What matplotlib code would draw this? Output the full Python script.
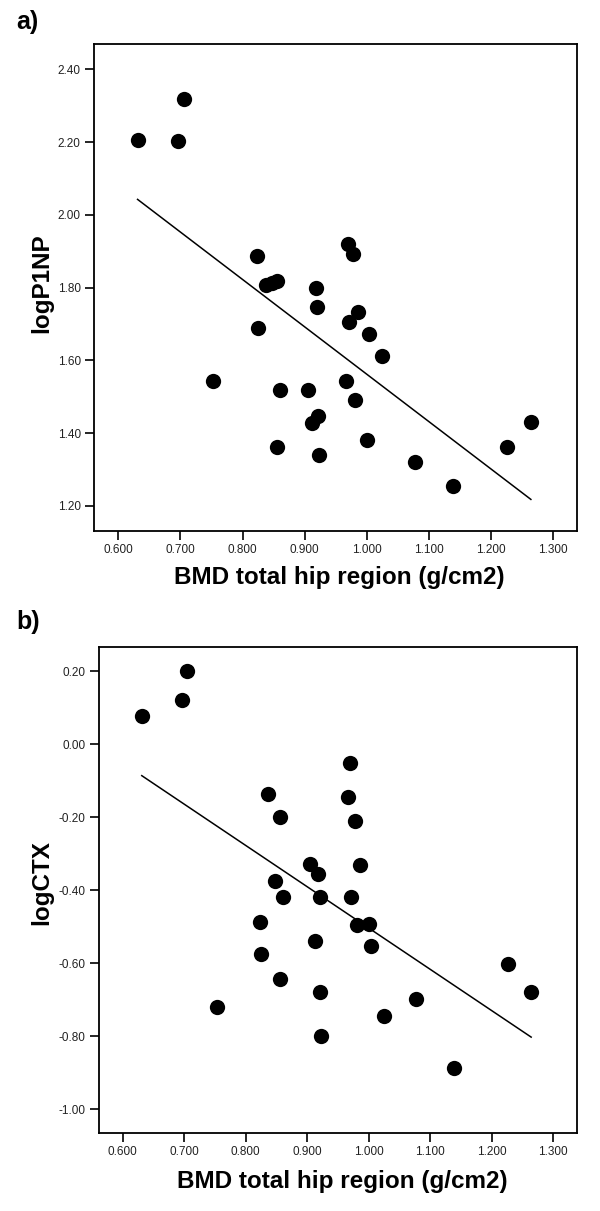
import numpy as np
import matplotlib
matplotlib.use("Agg")
import matplotlib.pyplot as plt
from matplotlib.ticker import FormatStrFormatter

plt.rcParams['font.family'] = ['Liberation Sans', 'DejaVu Sans']

bmd = [0.631, 0.696, 0.705, 0.753, 0.823, 0.825, 0.837, 0.847, 0.855, 0.855,
       0.861, 0.905, 0.912, 0.918, 0.920, 0.921, 0.923, 0.966, 0.969, 0.971,
       0.977, 0.981, 0.986, 1.000, 1.003, 1.025, 1.077, 1.138, 1.226, 1.264]
logP1NP = [2.206, 2.204, 2.317, 1.544, 1.886, 1.690, 1.806, 1.813, 1.819, 1.361,
           1.520, 1.520, 1.428, 1.799, 1.748, 1.447, 1.341, 1.544, 1.920, 1.706,
           1.892, 1.491, 1.732, 1.380, 1.672, 1.612, 1.320, 1.254, 1.361, 1.430]
logCTX = [0.078, 0.120, 0.199, -0.721, -0.487, -0.574, -0.136, -0.376, -0.200, -0.643,
          -0.420, -0.329, -0.539, -0.357, -0.420, -0.680, -0.799, -0.146, -0.053, -0.420,
          -0.210, -0.496, -0.331, -0.493, -0.552, -0.745, -0.698, -0.886, -0.601, -0.680]

x_ticks = [0.6, 0.7, 0.8, 0.9, 1.0, 1.1, 1.2, 1.3]
y_ticks_a = [1.2, 1.4, 1.6, 1.8, 2.0, 2.2, 2.4]
y_ticks_b = [-1.0, -0.8, -0.6, -0.4, -0.2, 0.0, 0.2]
xlabel = "BMD total hip region (g/cm2)"

fig = plt.figure(figsize=(6.0, 12.11), dpi=100)
W, H = 600, 1211

def make_axes(l, r, t, b):
    return fig.add_axes([l / W, 1 - b / H, (r - l) / W, (b - t) / H])

ax1 = make_axes(94, 577.3, 44, 531)
ax2 = make_axes(98.7, 577.3, 647.3, 1133.3)

panels = [
    (ax1, logP1NP, "logP1NP", y_ticks_a, (0.5609, 1.3387), (1.1313, 2.4695), "a)",
     1 - 10 / H, (0.508, -0.0945), (-0.1076, 0.509)),
    (ax2, logCTX, "logCTX", y_ticks_b, (0.561, 1.339), (-1.066, 0.265), "b)",
     1 - 610 / H, (0.508, -0.0996), (-0.1185, 0.515)),
]

for ax, yv, ylab, yt, xl, yl, tag, ty, xlc, ylc in panels:
    x = np.array(bmd)
    y = np.array(yv)
    ax.plot(x, y, 'o', color='black', markersize=11, markeredgewidth=0, zorder=3)
    k, c = np.polyfit(x, y, 1)
    xs = np.array([x.min(), x.max()])
    ax.plot(xs, k * xs + c, color='black', linewidth=1.1, zorder=2)
    ax.set_xlim(*xl)
    ax.set_ylim(*yl)
    ax.set_xticks(x_ticks)
    ax.set_yticks(yt)
    ax.xaxis.set_major_formatter(FormatStrFormatter('%.3f'))
    ax.yaxis.set_major_formatter(FormatStrFormatter('%.2f'))
    ax.tick_params(direction='out', length=6.5, width=1.2, labelsize=8.5,
                   labelcolor='#222222', pad=3)
    for s in ax.spines.values():
        s.set_linewidth(1.3)
    ax.set_xlabel(xlabel, fontsize=17.5, fontweight='bold')
    ax.set_ylabel(ylab, fontsize=17.5, fontweight='bold')
    ax.xaxis.label.set_va('center')
    ax.yaxis.label.set_va('center')
    ax.xaxis.set_label_coords(*xlc)
    ax.yaxis.set_label_coords(*ylc)
    fig.text(16 / W, ty, tag, fontsize=18, fontweight='bold', va='top', ha='left')

fig.savefig("out.png", dpi=100)
